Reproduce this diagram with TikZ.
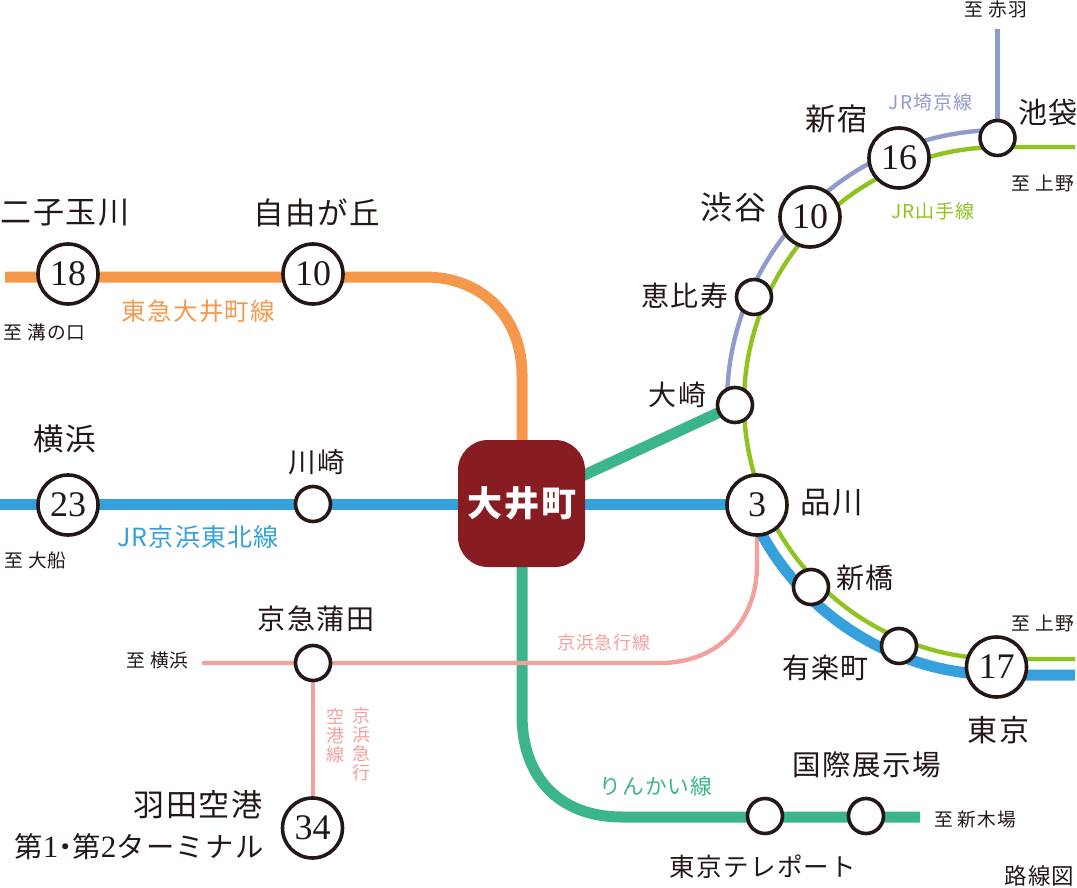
\documentclass[tikz,border=0pt]{standalone}
\usepackage{fontspec}
\newfontfamily\jp[LetterSpace=5]{Noto Sans CJK JP}
\newfontfamily\num{Liberation Serif}
\definecolor{ink}{HTML}{231815}
\definecolor{orangeL}{HTML}{F4994C}
\definecolor{blueL}{HTML}{35A0DB}
\definecolor{greenL}{HTML}{3CB58A}
\definecolor{pinkL}{HTML}{F4A09C}
\definecolor{purpleL}{HTML}{8F9BCC}
\definecolor{limeL}{HTML}{8FC31F}
\definecolor{maroonC}{HTML}{881C23}
\newcommand{\fs}[1]{\fontsize{#1}{#1}\selectfont}
\tikzset{
  x=1pt,y=-1pt,
  bigst/.style={circle,draw=ink,line width=3.6pt,fill=white,minimum size=60pt,inner sep=0pt,text=ink,font=\num\fs{36}},
  smallst/.style={circle,draw=ink,line width=3.6pt,fill=white,minimum size=35pt,inner sep=0pt},
  stn/.style={text=ink,font=\jp\fs{#1},inner sep=0pt,align=center},
  dest/.style={text=ink,font=\jp\fs{18.7},inner sep=0pt},
  lab/.style={font=\jp\fs{#1},inner sep=0pt,align=center},
  thickline/.style={line width=11pt},
  thinline/.style={line width=4.4pt},
}
\begin{document}
\begin{tikzpicture}
\useasboundingbox (0,0) rectangle (1077,888);
% line anchors
\coordinate (sJiyu) at (313,274);
\coordinate (sFutako) at (68,274);
\coordinate (sYoko) at (68,505);
\coordinate (sKawa) at (313,504);
\coordinate (sKama) at (313,663);
\coordinate (sHaneda) at (312.5,828);
\coordinate (sOsaki) at (735,405);
\coordinate (sEbisu) at (754,297);
\coordinate (sShibuya) at (810,217);
\coordinate (sShinjuku) at (899,158);
\coordinate (sIke) at (997.5,138);
\coordinate (sShina) at (757,505);
\coordinate (sShinbashi) at (811,587);
\coordinate (sYura) at (899,646);
\coordinate (sTokyo) at (996.5,667);
\coordinate (sTele) at (765,816);
\coordinate (sKoku) at (866,816);
\coordinate (oi) at (522,504);
\coordinate (endOrange) at (5,277);
\coordinate (endBlue) at (0,504);
\coordinate (endPink) at (202,663);
\coordinate (endAkabane) at (997.5,29);
\coordinate (endUenoN) at (1075,147);
\coordinate (endUenoS) at (1075,659);
\coordinate (endBlueE) at (1075,675);
\coordinate (endRinkai) at (920,817);
% lines
\draw[orangeL,thickline] (endOrange) -- (425,277) .. controls (483,277) and (522,318) .. (522,375) -- (oi);
\draw[blueL,thickline] (endBlue) -- (sShina |- endBlue);
\draw[greenL,thickline] (oi) -- (522,715) .. controls (522,778) and (560,817) .. (622,817) -- (endRinkai);
\draw[greenL,thickline] (oi) -- (sOsaki);
\draw[pinkL,thinline] (endPink) -- (660,663) .. controls (720,663) and (757,620) .. (757,565) -- (sShina);
\draw[pinkL,thinline] (sKama) -- (sKama |- sHaneda);
\draw[purpleL,thinline] plot[domain=90:180,samples=60] ({1000+273*cos(\x)},{403-273*sin(\x)}) -- (sOsaki);
\draw[purpleL,thinline] (endAkabane) -- (sIke);
\draw[limeL,thinline] (endUenoN) -- (1000,147) plot[domain=90:270,samples=100] ({1000+256*cos(\x)},{403-256*sin(\x)}) -- (endUenoS);
\draw[blueL,thickline] plot[domain=208:270,samples=50] ({1000+272*cos(\x)},{403-272*sin(\x)}) -- (endBlueE);
% centre
\node[fill=maroonC,rounded corners=30pt,minimum size=127pt,inner sep=0pt,text=white,font=\jp\bfseries\fs{35}] (ooimachi) at (521.5,503.5) {\kern1pt 大井町};
% stations
\node[bigst] (n18) at (sFutako) {18};
\node[bigst] (n10a) at (sJiyu) {10};
\node[bigst] (n23) at (sYoko) {23};
\node[smallst] (nKawa) at (sKawa) {};
\node[smallst] (nKama) at (sKama) {};
\node[bigst] (n34) at (sHaneda) {34};
\node[smallst] (nOsaki) at (sOsaki) {};
\node[smallst] (nEbisu) at (sEbisu) {};
\node[bigst] (n10b) at (sShibuya) {10};
\node[bigst] (n16) at (sShinjuku) {16};
\node[smallst] (nIke) at (sIke) {};
\node[bigst] (n3) at (sShina) {3};
\node[smallst] (nShinbashi) at (sShinbashi) {};
\node[smallst] (nYura) at (sYura) {};
\node[bigst] (n17) at (sTokyo) {17};
\node[smallst] (nTele) at (sTele) {};
\node[smallst] (nKoku) at (sKoku) {};
% station names
\node[stn=31] (t1) at (65,213) {二子玉川};
\node[stn=30.5] (t2) at (316.5,213) {自由が丘};
\node[stn=30.5] (t3) at (65,439) {横浜};
\node[stn=27.5] (t4) at (316.5,462) {川崎};
\node[stn=28] (t5) at (316,619) {京急蒲田};
\node[stn=31] (t6) at (198,805) {羽田空港};
\node[stn=28.3] (t7) at (139,847) {第{\num\fs{31}1}\kern-7pt・\kern-7pt第{\num\fs{31}2}ターミナル};
\node[stn=28] (t8) at (677.5,395) {大崎};
\node[stn=28] (t9) at (685,296) {恵比寿};
\node[stn=32] (t10) at (733.5,207) {渋谷};
\node[stn=30.5] (t11) at (837,119) {新宿};
\node[stn=29] (t12) at (1048,112) {池袋};
\node[stn=30.5] (t13) at (831.5,503) {品川};
\node[stn=28] (t14) at (865,578) {新橋};
\node[stn=28] (t15) at (825.5,668) {有楽町};
\node[stn=30] (t16) at (998.5,730) {東京};
\node[stn=28.5] (t17) at (867,765) {国際展示場};
\node[stn=25.5] (t18) at (763,867) {東京テレポート};
% destinations
\node[dest] (d1) at (44.5,332) {至 溝の口};
\node[dest] (d2) at (35.5,560) {至 大船};
\node[dest] (d3) at (157.5,660) {至 横浜};
\node[dest] (d4) at (996,9) {至 赤羽};
\node[dest] (d5) at (1043,184) {至 上野};
\node[dest] (d6) at (1043,624) {至 上野};
\node[dest] (d7) at (975,819) {至 新木場};
\node[dest,font=\jp\fs{22.5}] (d8) at (1039.5,876) {路線図};
% line names
\node[lab=24.5,text=orangeL] (l1) at (198.5,311) {東急大井町線};
\node[lab=25,text=blueL] (l2) at (198,537) {JR京浜東北線};
\node[lab=18,text=pinkL] (l3) at (604,643) {京浜急行線};
\node[lab=21.7,text=greenL] (l4) at (656,786) {りんかい線};
\node[lab=19,text=purpleL] (l5) at (930.5,102) {JR埼京線};
\node[lab=19,text=limeL] (l6) at (933,211) {JR山手線};
\node[lab=18,text=pinkL] (l7) at (335,736) {空\\[1pt]港\\[1pt]線};
\node[lab=18,text=pinkL] (l8) at (361,744) {京\\[1pt]浜\\[1pt]急\\[1pt]行};
\end{tikzpicture}
\end{document}
